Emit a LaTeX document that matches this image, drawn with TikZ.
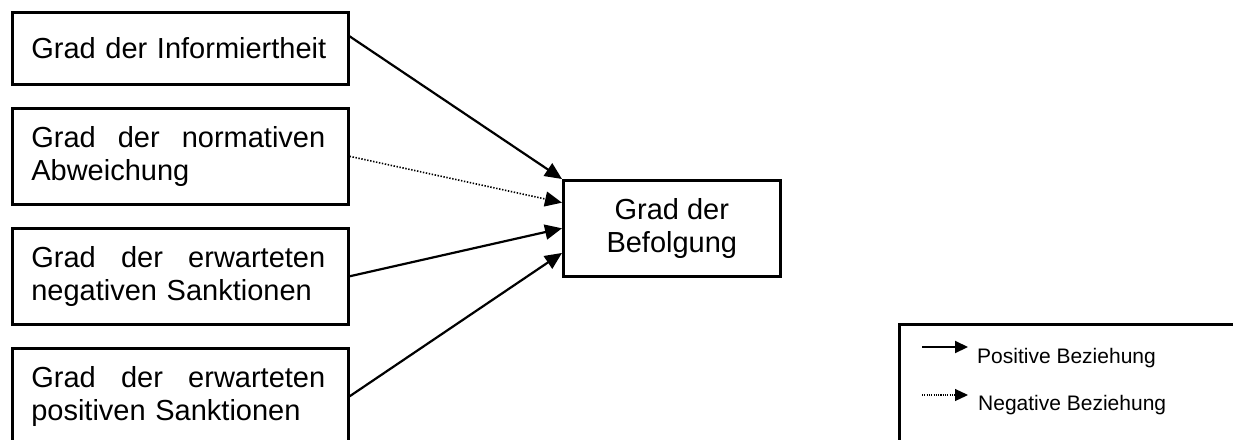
\documentclass[tikz,border=0pt]{standalone}
\usepackage{fontspec}
\setmainfont{Liberation Sans}
\usetikzlibrary{arrows.meta,calc}

\tikzset{
  factor/.style={draw, line width=2.6pt, anchor=north west, minimum width=336pt,
    inner xsep=19pt, inner ysep=0pt, text width=298pt, align=left,
    font=\fontsize{29}{33.4}\selectfont},
  outcome/.style={draw, line width=2.6pt, anchor=north west, minimum width=217pt,
    minimum height=96pt, inner sep=0pt, align=center,
    font=\fontsize{29}{33.4}\selectfont},
  posarrow/.style={line width=2.2pt, -{Triangle[length=17pt,width=15pt]}},
  negarrow/.style={line width=1.6pt, dash pattern=on 1.4pt off 1.6pt,
    -{Triangle[length=17pt,width=15pt]}},
  legendbox/.style={draw, line width=2.6pt, anchor=north west,
    minimum width=420pt, minimum height=160pt},
  legpos/.style={line width=2pt, -{Triangle[length=13pt,width=12pt]}},
  legneg/.style={line width=1.2pt, dash pattern=on 1.1pt off 1.2pt,
    -{Triangle[length=13pt,width=12pt]}},
  legtext/.style={anchor=base west, inner sep=0pt, font=\fontsize{21}{24}\selectfont}
}
% a justified first line: three words spread over the full text width
\newcommand{\spreadline}[3]{\makebox[294pt][l]{#1\hfill #2\hfill #3}}

\begin{document}
\begin{tikzpicture}[x=1pt,y=-1pt]
  \useasboundingbox (0,0) rectangle (1233,439);
  \clip (0,0) rectangle (1233,439);

  % influencing factors
  \node[factor, minimum height=72pt] (inf) at (11,11) {\mbox{Grad der Informiertheit}};
  \node[factor, minimum height=96pt] (norm) at (11,107)
    {\spreadline{Grad}{der}{normativen}\\Abweichung};
  \node[factor, minimum height=96pt] (neg) at (11,227)
    {\spreadline{Grad}{der}{erwarteten}\\negativen Sanktionen};
  \node[factor, minimum height=96pt] (pos) at (11,347)
    {\spreadline{Grad}{der}{erwarteten}\\positiven Sanktionen};

  % dependent variable
  \node[outcome] (bef) at (562,179) {Grad der\\Befolgung};

  % relations
  \draw[posarrow] ([yshift=12pt]inf.east) -- (bef.north west);
  \draw[negarrow] (norm.east) -- ($(bef.north west)!0.24!(bef.south west)$);
  \draw[posarrow] (neg.east) -- (bef.west);
  \draw[posarrow] (pos.east) -- ($(bef.north west)!0.75!(bef.south west)$);

  % legend
  \node[legendbox] (leg) at (898,323) {};
  \coordinate (lp1) at (922,347);
  \coordinate (lp2) at (968,347);
  \coordinate (ln1) at (922,395);
  \coordinate (ln2) at (968,395);
  \draw[legpos] (lp1) -- (lp2);
  \draw[legneg] (ln1) -- (ln2);
  \node[legtext] (lpos) at (977,363) {Positive Beziehung};
  \node[legtext] (lneg) at (978,410) {Negative Beziehung};
\end{tikzpicture}
\end{document}
